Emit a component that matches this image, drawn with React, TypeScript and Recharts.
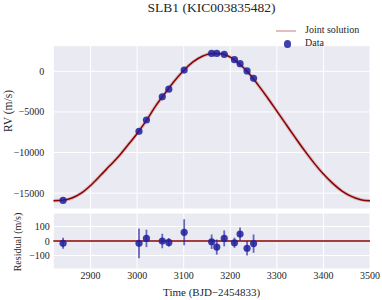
import { CartesianGrid, ComposedChart, ErrorBar, Label, Legend, Line, ReferenceLine, Scatter, XAxis, YAxis } from "recharts"

const obsTime = [2841, 3004, 3020, 3054, 3068, 3101, 3160, 3171, 3187, 3209, 3221, 3236, 3250]
const obsRv = [-15900, -7385, -5994, -3138, -2197, 146, 2197, 2197, 2092, 1433, 941, 40, -868]
const obsResidual = [-16, -16, 18, 0, -10, 60, -5, -42, 18, -12, 48, -50, -18]
const obsError = [38, 103, 60, 50, 30, 90, 50, 52, 55, 35, 45, 50, 63]

const modelTime = [2820, 2840, 2860, 2880, 2900, 2920, 2940, 2960, 2980, 3000, 3020, 3040, 3060, 3080, 3100, 3120, 3140, 3160, 3180, 3200, 3220, 3240, 3260, 3280, 3300, 3320, 3340, 3360, 3380, 3400, 3420, 3440, 3460, 3480, 3500]
const modelRv = [-15940, -15880, -15600, -15000, -14050, -12900, -11700, -10500, -9100, -7650, -6050, -4250, -2700, -1200, 100, 1150, 1850, 2200, 2170, 1750, 900, -250, -1700, -3250, -4900, -6550, -8200, -9800, -11300, -12650, -13800, -14750, -15400, -15800, -15950]

const timeTicks = [2900, 3000, 3100, 3200, 3300, 3400, 3500]
const rvTicks = [-15000, -10000, -5000, 0]
const residualTicks = [-100, 0, 100]

const model = modelTime.map((t, i) => ({ t, y: modelRv[i] }))
const obs = obsTime.map((t, i) => ({ t, y: obsRv[i] }))
const resid = obsTime.map((t, i) => ({ t, y: obsResidual[i], err: obsError[i] }))

const font = "'Liberation Serif', 'Times New Roman', 'DejaVu Serif', serif"
const red = "#8b0000"
const blue = "#1f1f9e"
const tickStyle = { fill: "#262626", fontSize: 10, fontFamily: font, style: { fontFamily: font } }
const fmt = (v: number) => (v < 0 ? "\u2212" + Math.abs(v) : String(v))

const dot = (p: any) => <circle cx={p.cx} cy={p.cy} r={3.6} fill={blue} fillOpacity={0.85} />

// matplotlib puts each y label next to its own tick labels, so x differs per panel
const sideLabel = (text: string, x: number, cy: number, size: number) => () => (
  <text x={x} y={cy} transform={`rotate(-90 ${x} ${cy})`} textAnchor="middle" dominantBaseline="central" fontSize={size} style={{ fontFamily: font }} fill="#262626">
    {text}
  </text>
)

const legendContent = () => (
  <div style={{ position: "relative", width: 100, height: 30, fontFamily: font, fontSize: 10, color: "#262626" }}>
    <div style={{ position: "absolute", left: 0, top: 7, width: 20, height: 1.5, background: red, opacity: 0.25 }} />
    <div style={{ position: "absolute", left: 29, top: 1 }}>Joint solution</div>
    <div style={{ position: "absolute", left: 7.5, top: 17, width: 7.5, height: 7.5, borderRadius: 4, background: blue, opacity: 0.85 }} />
    <div style={{ position: "absolute", left: 29, top: 14 }}>Data</div>
  </div>
)

export default function App() {
  return (
    <div style={{ position: "absolute", left: 0, top: 0, width: 382, height: 300, background: "#fff", fontFamily: font }}>
      <div style={{ position: "absolute", left: 53, width: 317, top: 0, textAlign: "center", fontSize: 13.5, color: "#262626" }}>
        SLB1 (KIC003835482)
      </div>
      <div style={{ position: "absolute", left: 0, top: 0 }}>
        <ComposedChart width={382} height={215} margin={{ top: 15.7, right: 12, bottom: 6, left: 0 }} style={{ fontFamily: font }}>
          <CartesianGrid stroke="#fff" strokeWidth={1} fill="#eaeaf2" fillOpacity={1} />
          <XAxis dataKey="t" type="number" domain={[2820, 3500]} ticks={timeTicks} allowDataOverflow hide />
          <YAxis dataKey="y" type="number" domain={[-16950, 3150]} ticks={rvTicks} interval={0} width={53.3} axisLine={false} tickLine={false} tickSize={0} tickMargin={9} tick={tickStyle} tickFormatter={fmt} allowDataOverflow>
            <Label content={sideLabel("RV (m/s)", 8, 111, 11.5)} />
          </YAxis>
          <Legend verticalAlign="top" align="left" wrapperStyle={{ left: 276, top: 23, width: 100 }} content={legendContent} />
          <Line data={model} dataKey="y" type="monotone" stroke={red} strokeWidth={3.5} strokeOpacity={0.2} dot={false} isAnimationActive={false} />
          <Line data={model} dataKey="y" type="monotone" stroke={red} strokeWidth={1.5} dot={false} isAnimationActive={false} />
          <Scatter data={obs} dataKey="y" shape={dot} isAnimationActive={false} />
        </ComposedChart>
      </div>
      <div style={{ position: "absolute", left: 0, top: 209 }}>
        <ComposedChart width={382} height={91} margin={{ top: 4, right: 12, bottom: 0, left: 0 }} style={{ fontFamily: font }}>
          <CartesianGrid stroke="#fff" strokeWidth={1} fill="#eaeaf2" fillOpacity={1} />
          <XAxis dataKey="t" type="number" domain={[2820, 3500]} ticks={timeTicks} interval={0} allowDataOverflow height={31} axisLine={false} tickLine={false} tickSize={0} tickMargin={3} tick={tickStyle}>
            <Label value={"Time (BJD\u22122454833)"} position="insideBottom" offset={4} style={{ fontFamily: font, fontSize: 11, fill: "#262626" }} />
          </XAxis>
          <YAxis dataKey="y" type="number" domain={[-193, 193]} ticks={residualTicks} interval={0} width={53.3} axisLine={false} tickLine={false} tickSize={0} tickMargin={3.5} tick={tickStyle} tickFormatter={fmt} allowDataOverflow>
            <Label content={sideLabel("Residual (m/s)", 17.5, 33, 10)} />
          </YAxis>
          <ReferenceLine y={0} stroke={red} strokeWidth={1.5} />
          <Scatter data={resid} dataKey="y" shape={dot} isAnimationActive={false}>
            <ErrorBar dataKey="err" direction="y" width={0} stroke={blue} strokeWidth={1.8} strokeOpacity={0.65} />
          </Scatter>
        </ComposedChart>
      </div>
    </div>
  )
}
